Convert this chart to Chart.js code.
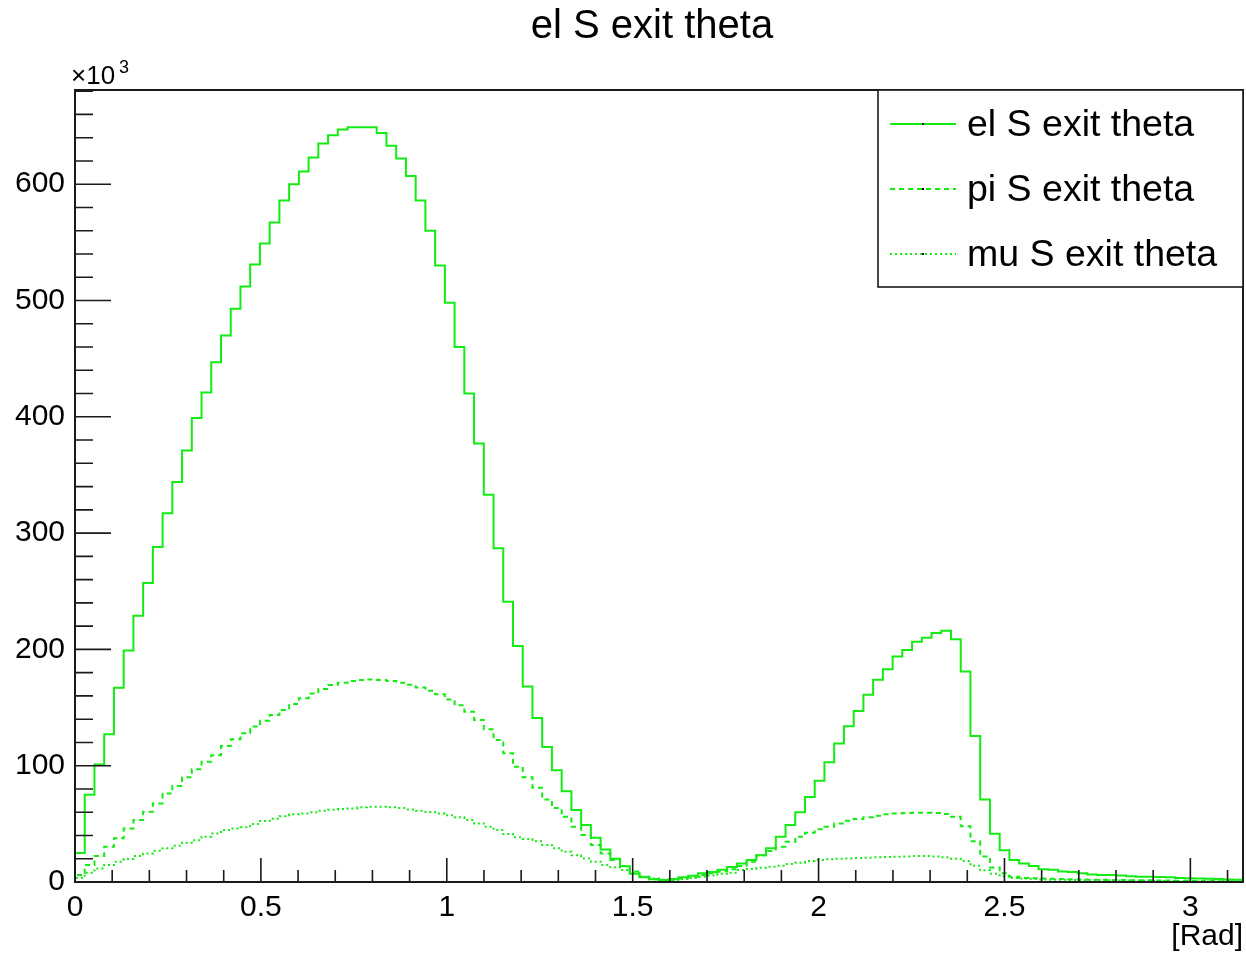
<!DOCTYPE html>
<html>
<head>
<meta charset="utf-8">
<title>el S exit theta</title>
<script src="https://cdn.jsdelivr.net/npm/chart.js@4/dist/chart.umd.min.js"></script>
<style>
  body { margin: 0; background: #fff; }
  canvas { display: block; }
</style>
</head>
<body>
<canvas id="thetaChart" width="1246" height="953"></canvas>
<script>
// 120 bins between 0 and pi, counts in units of 10^3
var nBins = 120;
var xMin = 0;
var xMax = Math.PI;

var elCounts = [
  25, 75, 101, 127, 167, 199, 229, 257, 288, 317,
  344, 371, 399, 421, 447, 470, 493, 512, 531, 549,
  567, 586, 600, 611, 623, 635, 642, 647, 649, 649,
  649, 644, 633, 622, 607, 586, 560, 530, 498, 460,
  420, 377, 333, 287, 241, 203, 168, 141, 116, 96,
  78, 62, 49, 38, 28, 20, 13.5, 7, 4, 2.3,
  1.7, 2.6, 4, 5.4, 7.5, 8.5, 10.5, 13, 16, 19,
  23, 29, 39, 49, 60, 73, 87, 103, 119, 134,
  147, 161, 174, 183, 194, 199.5, 206.6, 210, 214, 216,
  208.7, 181, 125.5, 71, 41.5, 27.3, 19, 16, 13.8, 11,
  10.5, 9, 8.5, 7.5, 6.5, 6, 6, 5.5, 5, 4.6,
  4.5, 4.3, 4, 3.5, 3.2, 3, 2.8, 2.5, 2.2, 2
];

var piCounts = [
  6, 14.6, 22.4, 30.4, 37.6, 46, 53.3, 60.5, 67.6, 76,
  82.5, 90, 97, 103.5, 109, 117, 122.7, 128, 133.6, 138.7,
  143.6, 148, 153, 158, 162, 166, 169.4, 171.4, 172.8, 173.7,
  174.2, 173.7, 172.8, 171.4, 169.7, 167.3, 164.5, 161.4, 157, 152,
  146.4, 139.3, 131.3, 122, 110.6, 99, 90, 81, 71, 63.6,
  56, 47.6, 40.4, 31.8, 24.6, 19, 13.8, 9, 4.6, 2.3,
  1.5, 2, 3, 4.5, 6, 7.5, 9, 11, 13.8, 17.5,
  23, 26.7, 30.4, 34.7, 39, 42.4, 45.3, 47.6, 50.4, 52.7,
  54.2, 55.6, 57, 58.2, 59, 59.3, 59.5, 59.5, 59.3, 58.5,
  56, 48, 35, 22, 12.5, 7.5, 4.6, 3.5, 3.2, 3,
  2.8, 2.6, 2.4, 2.2, 2, 1.9, 1.8, 1.7, 1.6, 1.5,
  1.4, 1.3, 1.2, 1.1, 1, 0.9, 0.8, 0.7, 0.6, 0.5
];

var muCounts = [
  3.5, 8, 11.7, 14.6, 17.5, 19.8, 22.4, 24.6, 26.9, 29,
  31.2, 33.8, 36, 39, 41.8, 44.7, 46, 47, 49.9, 52.4,
  54.4, 56.5, 58.2, 59, 59.9, 61.3, 62.2, 62.8, 63.3, 64.2,
  64.8, 64.8, 64.2, 63.6, 62.4, 61.3, 60.2, 59, 57.3, 55.6,
  53.3, 50.4, 47.6, 44.7, 41.3, 38.4, 37, 35, 31.8, 29,
  26, 23, 20.3, 17.5, 14.6, 12.6, 10.3, 7.5, 4.6, 3,
  2, 2, 2.5, 3.5, 4.5, 5.5, 7, 8, 10.3, 11.2,
  12.3, 13.2, 14, 15.5, 16.6, 18, 19, 19.5, 20, 20.3,
  20.6, 20.9, 21.2, 21.5, 21.8, 22, 22.4, 22.4, 22, 21.2,
  20, 18, 14, 10, 7, 5, 3.5, 3, 2.5, 2.2,
  2, 1.9, 1.8, 1.7, 1.6, 1.5, 1.4, 1.3, 1.2, 1.1,
  1, 0.9, 0.8, 0.7, 0.6, 0.5, 0.5, 0.4, 0.4, 0.3
];

var seriesNames = ['el S exit theta', 'pi S exit theta', 'mu S exit theta'];
var xTickValues = [0, 0.5, 1, 1.5, 2, 2.5, 3];
var yTickValues = [0, 100, 200, 300, 400, 500, 600];
var yMax = 681;

var green = 'rgb(20, 235, 20)';
var fontFamily = "'Liberation Sans', Arial, Helvetica, sans-serif";

// Turn bin contents into a step outline (starting and ending on zero like ROOT does)
function histPoints(counts) {
  var width = (xMax - xMin) / nBins;
  var pts = [{ x: xMin, y: 0 }];
  counts.forEach(function(c, i) {
    pts.push({ x: xMin + i * width, y: c });
  });
  pts.push({ x: xMax, y: counts[counts.length - 1] });
  pts.push({ x: xMax, y: 0 });
  return pts;
}

// Frame, inward ticks, legend box and axis extras
var rootDecor = {
  id: 'rootDecor',
  afterDatasetsDraw: function(chart) {
    var ctx = chart.ctx;
    var a = chart.chartArea;
    var x = chart.scales.x;
    var y = chart.scales.y;
    ctx.save();

    // ticks
    ctx.strokeStyle = '#1a1a1a';
    ctx.lineWidth = 1.6;
    ctx.beginPath();
    for (var k = 0; k <= 31; k++) {
      var px = x.getPixelForValue(k / 10);
      var len = (k % 5 === 0) ? 24 : 12;
      ctx.moveTo(px, a.bottom);
      ctx.lineTo(px, a.bottom - len);
    }
    for (var j = 0; j <= 34; j++) {
      var py = y.getPixelForValue(j * 20);
      var ylen = (j % 5 === 0) ? 36 : 18;
      ctx.moveTo(a.left, py);
      ctx.lineTo(a.left + ylen, py);
    }
    ctx.stroke();

    // frame
    ctx.lineWidth = 2;
    ctx.strokeRect(a.left, a.top, a.right - a.left, a.bottom - a.top);

    // legend
    var lx = 878, ly = a.top, lw = a.right - 878, lh = 197;
    ctx.fillStyle = '#fff';
    ctx.fillRect(lx, ly, lw, lh);
    ctx.lineWidth = 1.6;
    ctx.strokeStyle = '#1a1a1a';
    ctx.strokeRect(lx, ly, lw, lh);
    ctx.font = '37.5px ' + fontFamily;
    ctx.textBaseline = 'middle';
    ctx.textAlign = 'left';
    chart.data.datasets.forEach(function(ds, i) {
      var rowY = 124 + i * 65;
      ctx.strokeStyle = ds.borderColor;
      ctx.lineWidth = ds.borderWidth;
      ctx.setLineDash(ds.borderDash || []);
      ctx.beginPath();
      ctx.moveTo(890, rowY);
      ctx.lineTo(956, rowY);
      ctx.stroke();
      ctx.setLineDash([]);
      ctx.fillStyle = '#000';
      ctx.fillRect(922, rowY - 1, 2, 2);
      ctx.fillText(ds.label, 967, rowY + 2);
    });

    // exponent and unit
    ctx.fillStyle = '#000';
    ctx.textBaseline = 'alphabetic';
    ctx.font = '26px ' + fontFamily;
    ctx.fillText('\u00d710', 71, 84);
    ctx.font = '18px ' + fontFamily;
    ctx.fillText('3', 119, 73);
    ctx.font = '30px ' + fontFamily;
    ctx.textAlign = 'right';
    ctx.fillText('[Rad]', a.right, 945);

    // title
    ctx.textAlign = 'center';
    ctx.font = '40px ' + fontFamily;
    ctx.fillText('el S exit theta', 652, 38);
    ctx.restore();
  }
};

var ctx = document.getElementById('thetaChart').getContext('2d');

new Chart(ctx, {
  type: 'line',
  data: {
    datasets: [{
      label: seriesNames[0],
      data: histPoints(elCounts),
      borderColor: green,
      borderWidth: 2,
      stepped: 'before',
      pointRadius: 0,
      fill: false
    }, {
      label: seriesNames[1],
      data: histPoints(piCounts),
      borderColor: green,
      borderWidth: 2,
      borderDash: [5, 4],
      stepped: 'before',
      pointRadius: 0,
      fill: false
    }, {
      label: seriesNames[2],
      data: histPoints(muCounts),
      borderColor: green,
      borderWidth: 2,
      borderDash: [2, 3],
      stepped: 'before',
      pointRadius: 0,
      fill: false
    }]
  },
  options: {
    responsive: false,
    animation: false,
    layout: { padding: { top: 90, left: 0, right: 3, bottom: 0 } },
    plugins: {
      legend: { display: false },
      title: { display: false },
      tooltip: { enabled: false }
    },
    scales: {
      x: {
        type: 'linear',
        min: xMin,
        max: xMax,
        border: { display: false },
        grid: { display: false, drawTicks: false },
        afterBuildTicks: function(scale) {
          scale.ticks = xTickValues.map(function(v) { return { value: v }; });
        },
        afterFit: function(scale) { scale.height = 71; },
        ticks: {
          padding: 8,
          maxRotation: 0,
          autoSkip: false,
          color: '#000',
          font: { family: fontFamily, size: 30 },
          callback: function(value) { return String(value); }
        }
      },
      y: {
        type: 'linear',
        min: 0,
        max: yMax,
        border: { display: false },
        grid: { display: false, drawTicks: false },
        afterBuildTicks: function(scale) {
          scale.ticks = yTickValues.map(function(v) { return { value: v }; });
        },
        afterFit: function(scale) { scale.width = 75; },
        ticks: {
          padding: 10,
          autoSkip: false,
          color: '#000',
          font: { family: fontFamily, size: 30 },
          callback: function(value) { return String(value); }
        }
      }
    }
  },
  plugins: [rootDecor]
});
</script>
</body>
</html>
